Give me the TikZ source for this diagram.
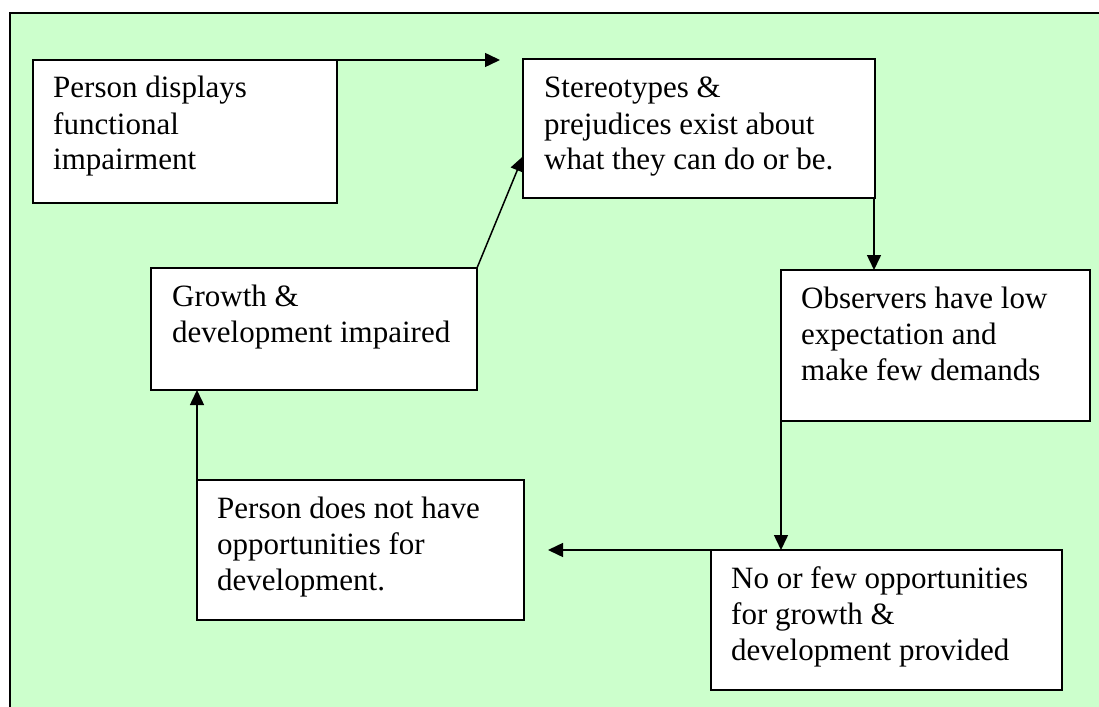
\documentclass[tikz,border=0pt]{standalone}
\usepackage{fontspec}
\setmainfont{Liberation Serif}
\usetikzlibrary{arrows.meta,calc}
\definecolor{bggreen}{HTML}{CCFFCC}
\tikzset{
  box/.style={draw=black, fill=white, line width=1.5pt, anchor=north west, inner sep=0pt, outer sep=0pt},
  txt/.style={anchor=base west, inner sep=0pt, font=\fontsize{31}{36}\selectfont},
  conn/.style={line width=1.5pt, -{Triangle[length=15pt,width=14pt]}}
}
\newcommand{\boxtext}[2]{\parbox[t]{#1}{\raggedright #2}}
\begin{document}
\begin{tikzpicture}[x=1pt,y=-1pt]
\useasboundingbox (0,0) rectangle (1099,706);
\begin{scope}
\clip (0,0) rectangle (1099,706);
\fill[bggreen] (10,13) rectangle (1120,730);
\draw[line width=2pt] (10,730) -- (10,13) -- (1120,13);
\end{scope}
% boxes
\node[box, minimum width=304pt, minimum height=143pt] (b1) at (33,60) {};
\node[box, minimum width=352pt, minimum height=139pt] (b2) at (523,59) {};
\node[box, minimum width=309pt, minimum height=151pt] (b3) at (781,270) {};
\node[box, minimum width=351pt, minimum height=140pt] (b4) at (711,550) {};
\node[box, minimum width=327pt, minimum height=140pt] (b5) at (197,480) {};
\node[box, minimum width=326pt, minimum height=122pt] (b6) at (151,268) {};
% texts
\node[txt] (t1) at ($(b1.north west)+(20,38)$) {\boxtext{290pt}{Person displays\\functional\\impairment}};
\node[txt] (t2) at ($(b2.north west)+(21,39)$) {\boxtext{330pt}{Stereotypes \&\\prejudices exist about\\what they can do or be.}};
\node[txt] (t3) at ($(b3.north west)+(20,38)$) {\boxtext{290pt}{Observers have low\\expectation and\\make few demands}};
\node[txt] (t4) at ($(b4.north west)+(20,38)$) {\boxtext{330pt}{No or few opportunities\\for growth \&\\development provided}};
\node[txt] (t5) at ($(b5.north west)+(20,38)$) {\boxtext{300pt}{Person does not have\\opportunities for\\development.}};
\node[txt] (t6) at ($(b6.north west)+(21,38)$) {\boxtext{300pt}{Growth \&\\development impaired}};
% connectors
\coordinate (a1) at (500,60);
\coordinate (a2) at (548,550);
\coordinate (s2) at ($(b2.south east)+(-1,0)$);
\coordinate (e2) at (s2 |- b3.north);
\coordinate (e6) at ($(b2.north west)!0.7!(b2.south west)$);
\draw[conn] (b1.north east) -- (a1);
\draw[conn] (s2) -- (e2);
\draw[conn] (b3.south west) -- (b3.south west |- b4.north);
\draw[conn] (b4.north west) -- (a2);
\draw[conn] (b5.north west) -- (b5.north west |- b6.south);
\draw[conn] (b6.north east) -- (e6);
\end{tikzpicture}
\end{document}
